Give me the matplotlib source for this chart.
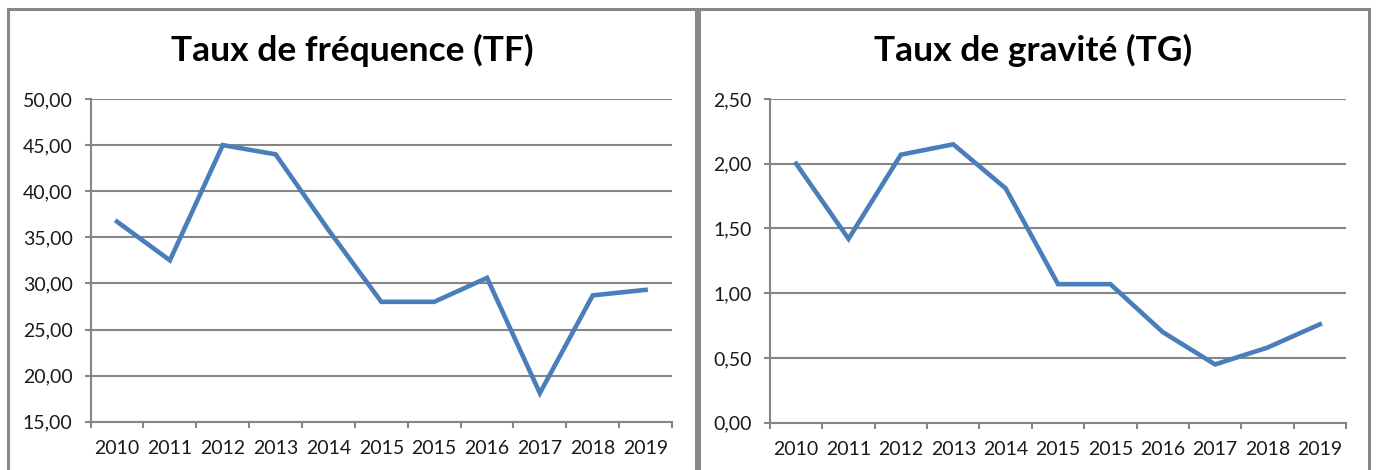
import matplotlib
matplotlib.use("Agg")
import matplotlib.pyplot as plt
from matplotlib.patches import Rectangle
from matplotlib.ticker import FixedLocator, FuncFormatter

categories = ["2010", "2011", "2012", "2013", "2014", "2015", "2015", "2016", "2017", "2018", "2019"]
tf_values = [36.7, 32.5, 45.0, 44.0, 35.8, 28.0, 28.0, 30.6, 18.1, 28.7, 29.3]
tg_values = [2.00, 1.42, 2.07, 2.15, 1.81, 1.07, 1.07, 0.70, 0.45, 0.58, 0.76]
tf_ticks = [15, 20, 25, 30, 35, 40, 45, 50]
tg_ticks = [0.0, 0.5, 1.0, 1.5, 2.0, 2.5]
titles = ["Taux de fréquence (TF)", "Taux de gravité (TG)"]

W, H = 1377, 470
fig = plt.figure(figsize=(W / 100, H / 100), dpi=100)
fig.patch.set_facecolor("white")

FONT = "Lato"
GRID = "#868686"
LINE = "#4A7EBB"
BORDER = "#878787"

def fx(px):
    return px / W

def fy(py):
    return 1 - py / H

# panel borders
for x0, x1 in [(8, 696), (698.5, 1369)]:
    fig.add_artist(Rectangle((fx(x0), fy(H + 20)), fx(x1 - x0), fy(9) - fy(H + 20),
                             transform=fig.transFigure, fill=False,
                             edgecolor=BORDER, lw=2.2))

panels = [
    dict(rect=(90.6, 99, 672, 421.7), vals=tf_values, ticks=tf_ticks, title=titles[0], tx=352),
    dict(rect=(770, 99, 1346, 422.7), vals=tg_values, ticks=tg_ticks, title=titles[1], tx=1033),
]

x = list(range(len(categories)))
for p in panels:
    l, t, r, b = p["rect"]
    ax = fig.add_axes([fx(l), fy(b), fx(r - l), fy(t) - fy(b)])
    ax.plot(x, p["vals"], color=LINE, lw=3.3, solid_joinstyle="miter", zorder=3)
    ax.set_xlim(-0.5, len(categories) - 0.5)
    ax.set_ylim(p["ticks"][0], p["ticks"][-1])
    ax.set_yticks(p["ticks"])
    ax.yaxis.set_major_formatter(FuncFormatter(lambda v, pos: f"{v:.2f}".replace(".", ",")))
    ax.grid(axis="y", color=GRID, lw=1.5, zorder=1)
    ax.set_axisbelow(True)
    # category axis: ticks between categories, labels centered
    ax.xaxis.set_major_locator(FixedLocator([i - 0.5 for i in range(len(categories) + 1)]))
    ax.xaxis.set_major_formatter(FuncFormatter(lambda v, pos: ""))
    ax.xaxis.set_minor_locator(FixedLocator(x))
    ax.set_xticklabels(categories, minor=True)
    ax.tick_params(axis="x", which="major", length=4.5, width=1.5, color=GRID)
    ax.tick_params(axis="x", which="minor", length=0, pad=13, labelsize=14)
    ax.tick_params(axis="y", which="major", length=4, width=1.5, color=GRID, pad=9, labelsize=14)
    for lab in ax.get_xticklabels(minor=True) + ax.get_yticklabels():
        lab.set_fontfamily(FONT)
        lab.set_color("#1a1a1a")
    for s in ["top", "right"]:
        ax.spines[s].set_visible(False)
    for s in ["left", "bottom"]:
        ax.spines[s].set_color(GRID)
        ax.spines[s].set_linewidth(1.5)
    fig.text(fx(p["tx"]), fy(50), p["title"], ha="center", va="center",
             fontfamily=FONT, fontweight="bold", fontsize=25.5, color="black")

fig.savefig("out.png", dpi=100, facecolor="white")
